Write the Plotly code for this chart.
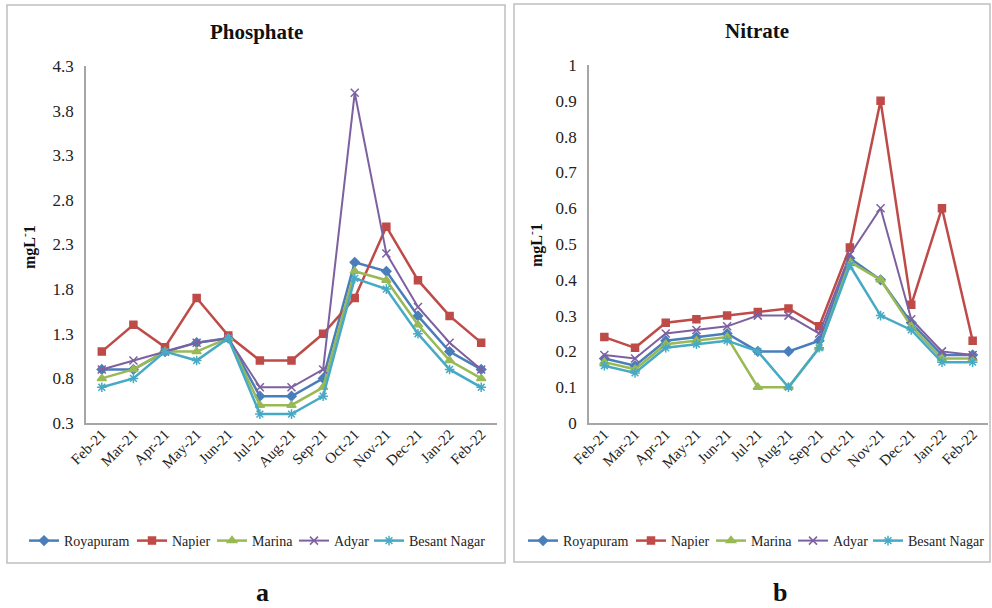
import plotly.graph_objects as go

months = ["Feb-21", "Mar-21", "Apr-21", "May-21", "Jun-21", "Jul-21", "Aug-21",
          "Sep-21", "Oct-21", "Nov-21", "Dec-21", "Jan-22", "Feb-22"]
stations = ["Royapuram", "Napier", "Marina", "Adyar", "Besant Nagar"]

# Phosphate (mg/L)
phos_royapuram = [0.9, 0.9, 1.1, 1.2, 1.25, 0.6, 0.6, 0.8, 2.1, 2.0, 1.5, 1.1, 0.9]
phos_napier = [1.1, 1.4, 1.15, 1.7, 1.28, 1.0, 1.0, 1.3, 1.7, 2.5, 1.9, 1.5, 1.2]
phos_marina = [0.8, 0.9, 1.1, 1.1, 1.25, 0.5, 0.5, 0.7, 2.0, 1.9, 1.4, 1.0, 0.8]
phos_adyar = [0.9, 1.0, 1.1, 1.2, 1.25, 0.7, 0.7, 0.9, 4.0, 2.2, 1.6, 1.2, 0.9]
phos_besant = [0.7, 0.8, 1.1, 1.0, 1.25, 0.4, 0.4, 0.6, 1.92, 1.8, 1.3, 0.9, 0.7]

# Nitrate (mg/L)
nit_royapuram = [0.18, 0.16, 0.23, 0.24, 0.25, 0.20, 0.20, 0.23, 0.46, 0.40, 0.28, 0.19, 0.19]
nit_napier = [0.24, 0.21, 0.28, 0.29, 0.30, 0.31, 0.32, 0.27, 0.49, 0.90, 0.33, 0.60, 0.23]
nit_marina = [0.17, 0.15, 0.22, 0.23, 0.24, 0.10, 0.10, 0.21, 0.45, 0.40, 0.27, 0.18, 0.18]
nit_adyar = [0.19, 0.18, 0.25, 0.26, 0.27, 0.30, 0.30, 0.25, 0.47, 0.60, 0.29, 0.20, 0.19]
nit_besant = [0.16, 0.14, 0.21, 0.22, 0.23, 0.20, 0.10, 0.21, 0.44, 0.30, 0.26, 0.17, 0.17]

phos_tick_vals = [0.3, 0.8, 1.3, 1.8, 2.3, 2.8, 3.3, 3.8, 4.3]
nit_tick_vals = [0, 0.1, 0.2, 0.3, 0.4, 0.5, 0.6, 0.7, 0.8, 0.9, 1]
nit_tick_text = ["0", "0.1", "0.2", "0.3", "0.4", "0.5", "0.6", "0.7", "0.8", "0.9", "1"]

W, H = 992, 608
FONT = "Liberation Serif, Times New Roman, serif"
colors = ["#4a7ebb", "#be4b48", "#98b954", "#7d60a0", "#46aac5"]
symbols = ["diamond", "square", "triangle-up", "x-thin-open", "asterisk-open"]
sizes = [7, 7, 8, 8, 8]
widths = [2.5, 2.5, 2.5, 2.0, 2.5]

# legend text start positions (px) for each panel
leg_left_px = [64, 172, 252, 334, 409]
leg_right_px = [563, 671, 751, 833, 908]


def px(x):
    return x / W


def py(y):
    return 1 - y / H


fig = go.Figure()
xidx = list(range(len(months)))

phos = [phos_royapuram, phos_napier, phos_marina, phos_adyar, phos_besant]
nit = [nit_royapuram, nit_napier, nit_marina, nit_adyar, nit_besant]

legends = {}
for panel, (data, xa, ya, lpos) in enumerate([(phos, "x", "y", leg_left_px),
                                              (nit, "x2", "y2", leg_right_px)]):
    for i, name in enumerate(stations):
        k = panel * 5 + i + 2
        lname = f"legend{k}"
        fig.add_trace(go.Scatter(
            x=xidx, y=data[i], name=name, mode="lines+markers",
            line=dict(color=colors[i], width=widths[i]),
            marker=dict(symbol=symbols[i], size=sizes[i], color=colors[i],
                        line=dict(color=colors[i], width=1.5)),
            xaxis=xa, yaxis=ya, legend=lname))
        legends[lname] = dict(orientation="h", x=px(lpos[i] - 40), y=py(541),
                              xanchor="left", yanchor="middle",
                              font=dict(family=FONT, size=14, color="#222"),
                              itemwidth=30, bgcolor="rgba(0,0,0,0)",
                              borderwidth=0)

axis_common = dict(showgrid=False, zeroline=False, showline=True,
                   linecolor="#a6a6a6", linewidth=1.5, ticks="",
                   tickfont=dict(family=FONT, size=17, color="#222"))
xtickfont = dict(family=FONT, size=15, color="#222")


def ann(text, x, y, size, angle=0):
    return dict(text=text, xref="paper", yref="paper", x=px(x), y=py(y),
                xanchor="center", yanchor="middle", showarrow=False,
                textangle=angle, font=dict(family=FONT, size=size, color="#111"))


fig.update_layout(
    width=W, height=H,
    margin=dict(l=0, r=0, t=0, b=0, autoexpand=False),
    paper_bgcolor="white", plot_bgcolor="white",
    font=dict(family=FONT, color="#222"),
    xaxis=dict(domain=[px(86), px(497)], range=[-0.5, 12.5],
               tickvals=xidx, ticktext=months, tickangle=-45,
               anchor="y", ticklabelstandoff=-5,
               **{**axis_common, "tickfont": xtickfont}),
    yaxis=dict(domain=[py(423), py(66)], range=[0.3, 4.3],
               tickvals=phos_tick_vals, tickformat=".1f", anchor="x",
               ticklabelstandoff=7, **axis_common),
    xaxis2=dict(domain=[px(589), px(988)], range=[-0.5, 12.5],
                tickvals=xidx, ticktext=months, tickangle=-45,
                anchor="y2", ticklabelstandoff=-5,
                **{**axis_common, "tickfont": xtickfont}),
    yaxis2=dict(domain=[py(423), py(65)], range=[0, 1],
                tickvals=nit_tick_vals, ticktext=nit_tick_text, anchor="x2",
                ticklabelstandoff=7, **axis_common),
    shapes=[
        dict(type="rect", xref="paper", yref="paper",
             x0=px(7), x1=px(505), y0=py(563), y1=py(5),
             line=dict(color="#bfbfbf", width=1.5), fillcolor="rgba(0,0,0,0)"),
        dict(type="rect", xref="paper", yref="paper",
             x0=px(514), x1=px(990), y0=py(562), y1=py(4),
             line=dict(color="#bfbfbf", width=1.5), fillcolor="rgba(0,0,0,0)"),
    ],
    annotations=[
        ann("<b>Phosphate</b>", 256, 32, 21),
        ann("<b>Nitrate</b>", 757, 31, 21),
        ann("<b>mgL<sup>-</sup>1</b>", 28, 247, 16, -90),
        ann("<b>mgL<sup>-</sup>1</b>", 535, 245, 16, -90),
        ann("<b>a</b>", 262, 592, 26),
        ann("<b>b</b>", 780, 592, 26),
    ],
)
fig.update_layout(**legends)

fig.write_html("out.html",
               config={"displayModeBar": False},
               post_script="document.body.style.margin='0';"
                           "document.body.style.padding='0';")
